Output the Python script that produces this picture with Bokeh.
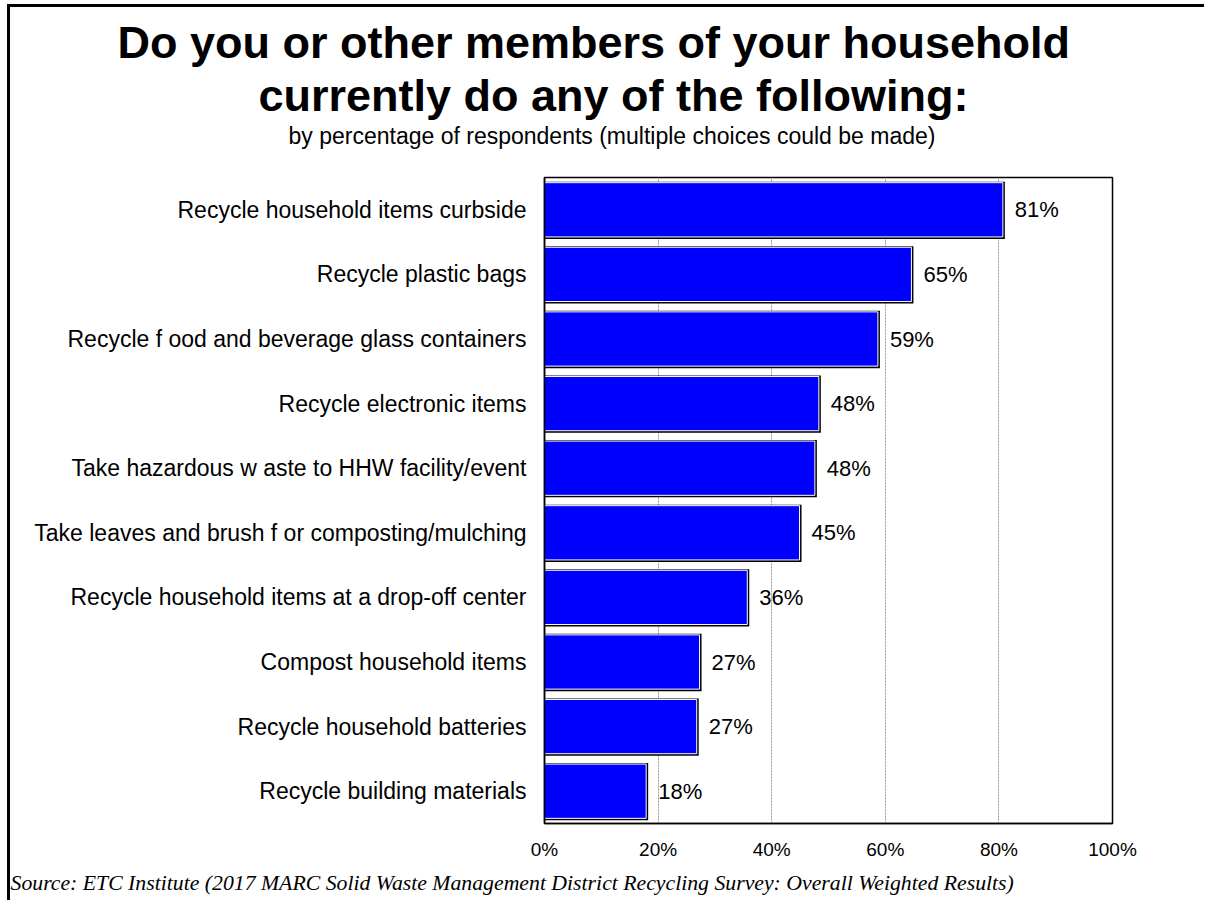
from bokeh.plotting import figure
from bokeh.models import Title, FactorRange, Range1d, ColumnDataSource
from bokeh.transform import dodge
from bokeh.core.properties import value
from bokeh.embed import file_html
from bokeh.resources import INLINE

categories = [
    "Recycle household items curbside",
    "Recycle plastic bags",
    "Recycle f ood and beverage glass containers",
    "Recycle electronic items",
    "Take hazardous w aste to HHW facility/event",
    "Take leaves and brush f or composting/mulching",
    "Recycle household items at a drop-off center",
    "Compost household items",
    "Recycle household batteries",
    "Recycle building materials",
]
values = [80.7, 64.6, 58.7, 48.3, 47.6, 44.9, 35.7, 27.3, 26.8, 17.9]
value_labels = ["81%", "65%", "59%", "48%", "48%", "45%", "36%", "27%", "27%", "18%"]
x_ticks = [0, 20, 40, 60, 80, 100]
tick_labels = ["0%", "20%", "40%", "60%", "80%", "100%"]

title_lines = ["Do you or other members of your household",
               "currently do any of the following:"]
subtitle = "by percentage of respondents (multiple choices could be made)"
source_text = ("Source:  ETC Institute (2017 MARC Solid Waste Management District "
               "Recycling Survey: Overall Weighted Results)")

SANS = "Liberation Sans"
SERIF = "Liberation Serif"

# page geometry of the plotting frame
FL, FT, FR, FB = 544, 177, 1112, 823
BORDER = 3
ML, MT = 7, 4

p = figure(
    frame_width=FR - FL, frame_height=FB - FT,
    min_border_left=FL - ML - BORDER, min_border_top=FT - MT - BORDER,
    min_border_right=92, min_border_bottom=76,
    x_range=Range1d(0, 100),
    y_range=FactorRange(*reversed(categories), range_padding=0),
    output_backend="svg", toolbar_location=None,
)
p.styles = {"border-top": f"{BORDER}px solid black",
            "border-left": f"{BORDER}px solid black",
            "margin-left": f"{ML}px", "margin-top": f"{MT}px"}
p.background_fill_color = "white"
p.border_fill_color = "white"
p.outline_line_color = "black"
p.outline_line_width = 1.5

src = ColumnDataSource(dict(cat=categories, val=values,
                            val_sh=[v + 0.35 for v in values],
                            lab=value_labels))

u = 1.0 / (FB - FT) * len(categories)  # one pixel in category units
# shadow / dark outline
p.hbar(y=dodge("cat", -0.5 * u, range=p.y_range), left=0, right="val_sh",
       height=0.84 + 3 * u, source=src, fill_color="black", line_color=None)
# main bar
p.hbar(y="cat", left=0, right="val", height=0.84, source=src,
       fill_color="#0000FF", line_color="white", line_width=1)

p.text(x="val_sh", y="cat", text="lab", source=src, x_offset=10,
       text_baseline="middle", text_align="left",
       text_font=value(SANS), text_font_size="22px", text_color="black")

# axes
p.xaxis.ticker = x_ticks
p.xaxis.major_label_overrides = {t: l for t, l in zip(x_ticks, tick_labels)}
p.xaxis.major_label_text_font = SANS
p.xaxis.major_label_text_font_size = "19px"
p.xaxis.major_label_text_color = "black"
p.xaxis.major_label_standoff = 15
p.xaxis.major_tick_out = 0
p.xaxis.major_tick_in = 0
p.xaxis.minor_tick_out = 0
p.xaxis.minor_tick_in = 0
p.xaxis.axis_line_color = "black"
p.xaxis.axis_line_width = 1.5

p.yaxis.major_label_text_font = SANS
p.yaxis.major_label_text_font_size = "23px"
p.yaxis.major_label_text_color = "black"
p.yaxis.major_label_standoff = 18
p.yaxis.major_tick_out = 0
p.yaxis.major_tick_in = 0
p.yaxis.axis_line_color = "black"
p.yaxis.axis_line_width = 1.5

p.xgrid.ticker = [20, 40, 60, 80]
p.xgrid.grid_line_color = "#999999"
p.xgrid.grid_line_dash = "2 1"
p.xgrid.grid_line_width = 1
p.ygrid.visible = False

# titles above: first added is nearest the frame
p.add_layout(Title(text=" ", align="left", text_font=SANS, text_font_size="1px",
                   standoff=26), "above")  # spacer between frame and subtitle
p.add_layout(Title(text=subtitle, align="left", offset=288 - FL,
                   text_font=SANS, text_font_size="23px", text_font_style="normal",
                   text_color="black", standoff=0), "above")
p.add_layout(Title(text=title_lines[1], align="left", offset=258 - FL,
                   text_font=SANS, text_font_size="45px", text_font_style="bold",
                   text_color="black", standoff=0), "above")
p.add_layout(Title(text=title_lines[0], align="left", offset=117 - FL,
                   text_font=SANS, text_font_size="45px", text_font_style="bold",
                   text_color="black", standoff=0), "above")
# source below (after the axis)
p.add_layout(Title(text=source_text, align="left", offset=10 - FL,
                   text_font=SERIF, text_font_size="21.75px", text_font_style="italic",
                   text_color="black", standoff=12), "below")

open("out.html", "w").write(file_html(p, INLINE))
